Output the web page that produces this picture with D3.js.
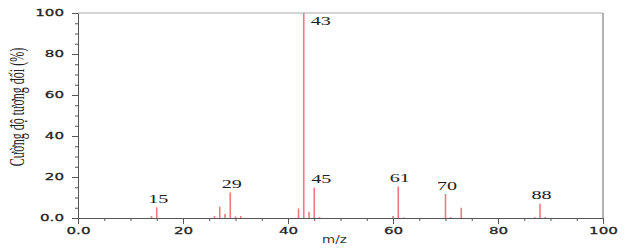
<!DOCTYPE html>
<html>
<head>
<meta charset="utf-8">
<script src="https://cdn.jsdelivr.net/npm/d3@7"></script>
<style>
  body { margin: 0; background: #fff; }
  .tick text { font-family: "DejaVu Sans", sans-serif; font-size: 9px; fill: #222; stroke: #222; stroke-width: 0.25px; }
  .tick line, .domain { stroke: #555; }
  .peak-label { font-family: "Liberation Serif", serif; font-size: 12px; fill: #222; }
</style>
</head>
<body>
<svg id="chart"></svg>
<script>
// mass spectrum: m/z and relative intensity (%)
var mz =        [14, 15, 26, 27, 28, 29,   30,  31, 42,  43,  44, 45,   46,  60, 61,   62,  70,   71,  73, 87,  88, 89];
var intensity = [1,  5.2, 1, 5.5, 2, 12.5, 0.8, 1,  4.7, 100, 3,  14.8, 0.5, 1,  15.4, 0.3, 11.7, 0.5, 5,  0.4, 7,  0.5];
var labelledPeaks = [15, 29, 43, 45, 61, 70, 88];
var xTicks = [0, 20, 40, 60, 80, 100];
var yTicks = [0, 20, 40, 60, 80, 100];
var xTitle = "m/z";
var yTitle = "Cường độ tương đối (%)";

var margin = {top: 13, right: 23, bottom: 34, left: 78};
var width = 626 - margin.left - margin.right;
var height = 252 - margin.top - margin.bottom;
var sx = 1.68; // the text in the picture is stretched sideways

var x = d3.scaleLinear().domain([0, 100]).range([0, width]);
var y = d3.scaleLinear().domain([0, 100]).range([height, 0]);

var svg = d3.select("#chart")
  .attr("width", 626)
  .attr("height", 252);

var chart = svg.append("g")
  .attr("transform", "translate(" + margin.left + "," + margin.top + ")");

function fmt(d) { return d === 0 ? "0.0" : d; }

// frame top and right
chart.append("line")
  .attr("x1", 0).attr("x2", width).attr("y1", 0).attr("y2", 0)
  .attr("stroke", "#aaa");
chart.append("line")
  .attr("x1", width).attr("x2", width).attr("y1", 0).attr("y2", height)
  .attr("stroke", "#999").attr("stroke-width", 1.5);

// minor ticks
chart.append("g")
  .attr("transform", "translate(0," + height + ")")
  .call(d3.axisBottom(x).ticks(20).tickSize(3).tickFormat(""))
  .select(".domain").remove();
chart.append("g")
  .call(d3.axisLeft(y).ticks(20).tickSize(3).tickFormat(""))
  .select(".domain").remove();

var xAxis = chart.append("g")
  .attr("transform", "translate(0," + height + ")")
  .call(d3.axisBottom(x).tickValues(xTicks).tickSize(6).tickSizeOuter(0).tickFormat(fmt));
xAxis.selectAll(".tick text")
  .attr("y", 15.7).attr("dy", 0)
  .attr("transform", "scale(" + sx + ",1)");

var yAxis = chart.append("g")
  .call(d3.axisLeft(y).tickValues(yTicks).tickSize(6).tickSizeOuter(0).tickFormat(fmt));
yAxis.selectAll(".tick text")
  .attr("x", -14 / sx)
  .attr("transform", "scale(" + sx + ",1)");

// peaks
var peaks = mz.map(function(m, i) { return {mz: m, value: intensity[i]}; });

chart.selectAll(".peak")
  .data(peaks)
  .enter().append("line")
  .attr("class", "peak")
  .attr("x1", function(d) { return x(d.mz); })
  .attr("x2", function(d) { return x(d.mz); })
  .attr("y1", y(0))
  .attr("y2", function(d) { return y(d.value); })
  .attr("stroke", "#ef7a80")
  .attr("stroke-width", 1.6);

// peak labels
var labelled = peaks.filter(function(d) { return labelledPeaks.indexOf(d.mz) >= 0; });

chart.selectAll(".peak-label")
  .data(labelled)
  .enter().append("text")
  .attr("class", "peak-label")
  .attr("text-anchor", function(d) { return d.value >= 100 ? "start" : "middle"; })
  .attr("transform", function(d) {
    var px = x(d.mz) + 1.5;
    var py = y(d.value) - 4.5;
    if (d.value >= 100) { px = x(d.mz) + 7; py = y(d.value) + 12; }
    else if (d.mz === 45) { px = x(d.mz) + 7; }
    return "translate(" + px + "," + py + ") scale(" + sx + ",1)";
  })
  .text(function(d) { return d.mz; });

// axis titles
chart.append("text")
  .attr("transform", "translate(" + (width / 2 - 6) + "," + (height + 25) + ") scale(1.35,1)")
  .attr("text-anchor", "middle")
  .style("font-family", "DejaVu Sans, sans-serif")
  .style("font-size", "10px")
  .style("fill", "#333")
  .text(xTitle);

svg.append("text")
  .attr("transform", "translate(24,107) scale(" + sx + ",1) rotate(-90)")
  .attr("text-anchor", "middle")
  .style("font-family", "Liberation Serif, serif")
  .style("font-size", "12px")
  .style("fill", "#222")
  .text(yTitle);
</script>
</body>
</html>
